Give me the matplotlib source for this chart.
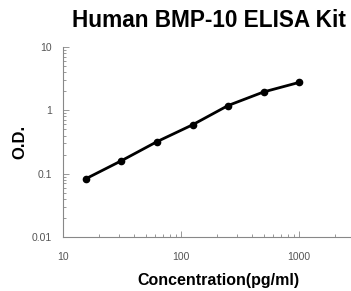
import matplotlib.pyplot as plt
from matplotlib.ticker import FixedLocator, FixedFormatter, LogLocator, NullFormatter

plt.rcParams['font.family'] = ['Liberation Sans', 'DejaVu Sans']

conc = [15.6, 31.25, 62.5, 125, 250, 500, 1000]
od = [0.083, 0.16, 0.32, 0.59, 1.19, 1.95, 2.76]

x_ticks = [10, 100, 1000]
x_labels = ["10", "100", "1000"]
y_ticks = [0.01, 0.1, 1, 10]
y_labels = ["0.01", "0.1", "1", "10"]

fig = plt.figure(figsize=(3.51, 2.91), dpi=100)
ax = fig.add_axes([0.1795, 0.1856, 0.818, 0.653])

ax.plot(conc, od, color="black", lw=2, marker="o", ms=4.5)

ax.set_xscale("log")
ax.set_yscale("log")
ax.set_xlim(10, 2700)
ax.set_ylim(0.01, 10)

ax.xaxis.set_major_locator(FixedLocator(x_ticks))
ax.xaxis.set_major_formatter(FixedFormatter(x_labels))
ax.yaxis.set_major_locator(FixedLocator(y_ticks))
ax.yaxis.set_major_formatter(FixedFormatter(y_labels))
ax.xaxis.set_minor_locator(LogLocator(base=10, subs=range(2, 10)))
ax.yaxis.set_minor_locator(LogLocator(base=10, subs=range(2, 10)))
ax.xaxis.set_minor_formatter(NullFormatter())
ax.yaxis.set_minor_formatter(NullFormatter())

for s in ["top", "right"]:
    ax.spines[s].set_visible(False)
for s in ["left", "bottom"]:
    ax.spines[s].set_color("#888888")
    ax.spines[s].set_linewidth(0.8)

ax.tick_params(which="both", direction="in", color="#888888", width=0.6,
               labelsize=7.5, labelcolor="#555555")
ax.tick_params(which="major", length=4)
ax.tick_params(which="minor", length=2.5)
ax.tick_params(axis="x", pad=11)
ax.tick_params(axis="y", pad=8)

fig.text(0.595, 0.93, "Human BMP-10 ELISA Kit", ha="center", va="center",
         fontsize=16.3, fontweight="bold")
ax.set_xlabel("Concentration(pg/ml)", fontsize=11.5, fontweight="bold")
ax.xaxis.set_label_coords(0.543, -0.19)
ax.set_ylabel("O.D.", fontsize=12, fontweight="bold", labelpad=3)

fig.savefig("out.png", dpi=100)
